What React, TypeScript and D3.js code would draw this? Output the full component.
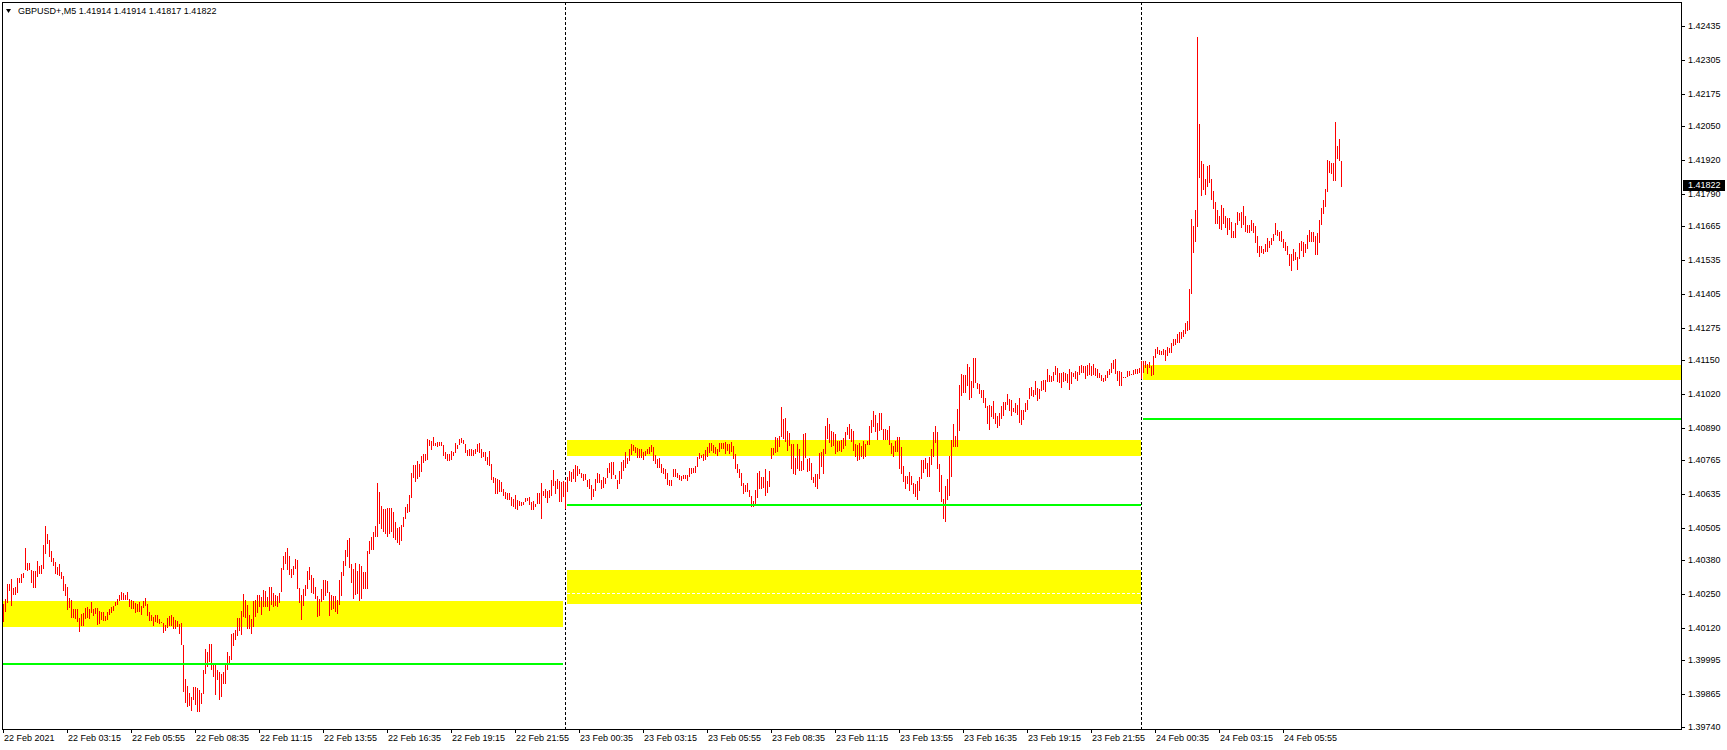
import React from 'react';
import * as d3 from 'd3';

// ---- DATA (GBPUSD+, M5) ----
const symbolName = 'GBPUSD+,M5';
const lastOHLC = [1.41914, 1.41914, 1.41817, 1.41822];

const highs = [
  1.40212, 1.40232, 1.40289, 1.40289, 1.40309, 1.40274, 1.40278, 1.40312, 1.40312, 1.40329,
  1.40332, 1.40428, 1.40370, 1.40371, 1.40343, 1.40339, 1.40339, 1.40378, 1.40360, 1.40361,
  1.40437, 1.40510, 1.40482, 1.40459, 1.40414, 1.40387, 1.40375, 1.40355, 1.40364, 1.40334,
  1.40318, 1.40289, 1.40279, 1.40235, 1.40228, 1.40191, 1.40193, 1.40192, 1.40159, 1.40173,
  1.40176, 1.40198, 1.40202, 1.40194, 1.40219, 1.40193, 1.40197, 1.40197, 1.40185, 1.40182,
  1.40183, 1.40166, 1.40183, 1.40192, 1.40200, 1.40203, 1.40220, 1.40230, 1.40246, 1.40259,
  1.40255, 1.40248, 1.40259, 1.40230, 1.40226, 1.40225, 1.40214, 1.40211, 1.40221, 1.40206,
  1.40224, 1.40234, 1.40212, 1.40182, 1.40170, 1.40161, 1.40171, 1.40171, 1.40156, 1.40143,
  1.40139, 1.40132, 1.40159, 1.40165, 1.40169, 1.40161, 1.40151, 1.40147, 1.40134, 1.40137,
  1.40056, 1.39924, 1.39897, 1.39871, 1.39856, 1.39894, 1.39891, 1.39888, 1.39883, 1.39868,
  1.39957, 1.40039, 1.40028, 1.40059, 1.40059, 1.39984, 1.39982, 1.39959, 1.39952, 1.39944,
  1.39950, 1.39980, 1.40028, 1.40011, 1.40097, 1.40102, 1.40112, 1.40159, 1.40157, 1.40185,
  1.40251, 1.40228, 1.40209, 1.40170, 1.40156, 1.40223, 1.40228, 1.40247, 1.40247, 1.40238,
  1.40265, 1.40262, 1.40238, 1.40278, 1.40278, 1.40255, 1.40247, 1.40241, 1.40256, 1.40351,
  1.40397, 1.40412, 1.40428, 1.40396, 1.40347, 1.40360, 1.40384, 1.40382, 1.40274, 1.40247,
  1.40270, 1.40285, 1.40339, 1.40355, 1.40324, 1.40312, 1.40276, 1.40244, 1.40232, 1.40270,
  1.40305, 1.40305, 1.40300, 1.40259, 1.40247, 1.40241, 1.40243, 1.40228, 1.40305, 1.40335,
  1.40378, 1.40420, 1.40459, 1.40466, 1.40366, 1.40347, 1.40370, 1.40339, 1.40366, 1.40360,
  1.40335, 1.40335, 1.40416, 1.40455, 1.40468, 1.40489, 1.40512, 1.40678, 1.40643, 1.40589,
  1.40579, 1.40579, 1.40583, 1.40583, 1.40580, 1.40566, 1.40528, 1.40505, 1.40507, 1.40515,
  1.40547, 1.40585, 1.40596, 1.40633, 1.40716, 1.40747, 1.40747, 1.40762, 1.40752, 1.40782,
  1.40789, 1.40788, 1.40847, 1.40843, 1.40837, 1.40853, 1.40832, 1.40835, 1.40835, 1.40835,
  1.40824, 1.40798, 1.40789, 1.40789, 1.40800, 1.40797, 1.40833, 1.40825, 1.40846, 1.40851,
  1.40843, 1.40829, 1.40803, 1.40807, 1.40807, 1.40806, 1.40807, 1.40829, 1.40830, 1.40807,
  1.40796, 1.40796, 1.40779, 1.40801, 1.40750, 1.40700, 1.40696, 1.40693, 1.40689, 1.40683,
  1.40655, 1.40641, 1.40637, 1.40639, 1.40624, 1.40615, 1.40633, 1.40612, 1.40609, 1.40605,
  1.40605, 1.40620, 1.40620, 1.40623, 1.40606, 1.40607, 1.40597, 1.40639, 1.40639, 1.40678,
  1.40646, 1.40653, 1.40648, 1.40651, 1.40687, 1.40726, 1.40685, 1.40691, 1.40685, 1.40683,
  1.40685, 1.40683, 1.40700, 1.40724, 1.40721, 1.40733, 1.40747, 1.40744, 1.40733, 1.40716,
  1.40713, 1.40711, 1.40689, 1.40691, 1.40670, 1.40654, 1.40693, 1.40716, 1.40712, 1.40688,
  1.40702, 1.40698, 1.40735, 1.40754, 1.40759, 1.40759, 1.40708, 1.40688, 1.40722, 1.40758,
  1.40765, 1.40798, 1.40775, 1.40808, 1.40827, 1.40824, 1.40815, 1.40812, 1.40809, 1.40808,
  1.40798, 1.40802, 1.40808, 1.40816, 1.40824, 1.40816, 1.40786, 1.40768, 1.40775, 1.40749,
  1.40736, 1.40731, 1.40717, 1.40690, 1.40689, 1.40731, 1.40731, 1.40717, 1.40707, 1.40706,
  1.40708, 1.40708, 1.40707, 1.40735, 1.40736, 1.40736, 1.40744, 1.40779, 1.40791, 1.40785,
  1.40790, 1.40804, 1.40817, 1.40831, 1.40831, 1.40824, 1.40816, 1.40807, 1.40831, 1.40830,
  1.40833, 1.40834, 1.40827, 1.40826, 1.40835, 1.40818, 1.40788, 1.40752, 1.40733, 1.40716,
  1.40679, 1.40671, 1.40676, 1.40652, 1.40627, 1.40609, 1.40650, 1.40716, 1.40725, 1.40699,
  1.40699, 1.40731, 1.40685, 1.40724, 1.40813, 1.40813, 1.40854, 1.40850, 1.40859, 1.40970,
  1.40922, 1.40927, 1.40876, 1.40868, 1.40829, 1.40827, 1.40772, 1.40829, 1.40809, 1.40763,
  1.40867, 1.40870, 1.40770, 1.40775, 1.40754, 1.40702, 1.40711, 1.40713, 1.40793, 1.40798,
  1.40808, 1.40898, 1.40927, 1.40906, 1.40876, 1.40872, 1.40866, 1.40840, 1.40838, 1.40841,
  1.40850, 1.40875, 1.40894, 1.40904, 1.40885, 1.40876, 1.40829, 1.40824, 1.40831, 1.40821,
  1.40840, 1.40828, 1.40840, 1.40896, 1.40921, 1.40955, 1.40939, 1.40908, 1.40946, 1.40946,
  1.40886, 1.40885, 1.40881, 1.40896, 1.40832, 1.40819, 1.40837, 1.40854, 1.40854, 1.40816,
  1.40742, 1.40705, 1.40705, 1.40719, 1.40705, 1.40676, 1.40672, 1.40684, 1.40699, 1.40766,
  1.40764, 1.40772, 1.40755, 1.40776, 1.40808, 1.40873, 1.40896, 1.40873, 1.40751, 1.40709,
  1.40616, 1.40667, 1.40691, 1.40780, 1.40842, 1.40904, 1.40858, 1.40963, 1.41054, 1.41096,
  1.41094, 1.41092, 1.41135, 1.41123, 1.41071, 1.41159, 1.41159, 1.41063, 1.41057, 1.41035,
  1.41036, 1.41005, 1.40973, 1.40977, 1.40975, 1.40994, 1.40948, 1.40935, 1.40945, 1.40975,
  1.40989, 1.40987, 1.41021, 1.41000, 1.40995, 1.40967, 1.40985, 1.40977, 1.41004, 1.40958,
  1.40957, 1.40986, 1.40996, 1.41041, 1.41048, 1.41035, 1.41068, 1.41044, 1.41040, 1.41068,
  1.41073, 1.41073, 1.41116, 1.41091, 1.41089, 1.41105, 1.41126, 1.41118, 1.41099, 1.41100,
  1.41104, 1.41101, 1.41095, 1.41114, 1.41103, 1.41100, 1.41109, 1.41103, 1.41128, 1.41130,
  1.41126, 1.41126, 1.41132, 1.41137, 1.41126, 1.41135, 1.41118, 1.41117, 1.41100, 1.41094,
  1.41081, 1.41094, 1.41107, 1.41114, 1.41139, 1.41149, 1.41154, 1.41108, 1.41107, 1.41105,
  1.41086, 1.41085, 1.41107, 1.41108, 1.41096, 1.41110, 1.41114, 1.41116, 1.41118, 1.41148,
  1.41146, 1.41148, 1.41135, 1.41141, 1.41126, 1.41167, 1.41192, 1.41201, 1.41188, 1.41184,
  1.41191, 1.41187, 1.41201, 1.41198, 1.41216, 1.41233, 1.41232, 1.41249, 1.41258, 1.41257,
  1.41266, 1.41292, 1.41302, 1.41423, 1.41693, 1.41666, 1.41727, 1.42394, 1.42058, 1.41916,
  1.41904, 1.41846, 1.41896, 1.41900, 1.41846, 1.41799, 1.41758, 1.41727, 1.41705, 1.41746,
  1.41736, 1.41704, 1.41696, 1.41696, 1.41681, 1.41646, 1.41677, 1.41720, 1.41717, 1.41721,
  1.41743, 1.41704, 1.41670, 1.41670, 1.41689, 1.41677, 1.41664, 1.41627, 1.41589, 1.41589,
  1.41577, 1.41596, 1.41620, 1.41609, 1.41620, 1.41635, 1.41677, 1.41652, 1.41641, 1.41646,
  1.41617, 1.41605, 1.41589, 1.41558, 1.41558, 1.41577, 1.41566, 1.41546, 1.41600, 1.41608,
  1.41604, 1.41595, 1.41632, 1.41650, 1.41641, 1.41641, 1.41627, 1.41640, 1.41689, 1.41735,
  1.41766, 1.41808, 1.41920, 1.41916, 1.41908, 1.41907, 1.42066, 1.41973, 1.42000, 1.41914,
];

const lows = [
  1.40144, 1.40183, 1.40214, 1.40262, 1.40205, 1.40246, 1.40247, 1.40255, 1.40294, 1.40294,
  1.40310, 1.40341, 1.40338, 1.40341, 1.40291, 1.40275, 1.40275, 1.40314, 1.40328, 1.40329,
  1.40348, 1.40405, 1.40443, 1.40394, 1.40375, 1.40359, 1.40329, 1.40325, 1.40320, 1.40309,
  1.40260, 1.40242, 1.40187, 1.40197, 1.40160, 1.40160, 1.40155, 1.40141, 1.40106, 1.40128,
  1.40128, 1.40155, 1.40157, 1.40156, 1.40176, 1.40164, 1.40174, 1.40133, 1.40134, 1.40150,
  1.40148, 1.40146, 1.40151, 1.40171, 1.40176, 1.40184, 1.40203, 1.40209, 1.40223, 1.40229,
  1.40228, 1.40226, 1.40229, 1.40201, 1.40194, 1.40194, 1.40179, 1.40182, 1.40183, 1.40171,
  1.40198, 1.40203, 1.40166, 1.40148, 1.40148, 1.40129, 1.40143, 1.40137, 1.40134, 1.40137,
  1.40102, 1.40107, 1.40120, 1.40129, 1.40126, 1.40114, 1.40116, 1.40123, 1.40098, 1.40055,
  1.39874, 1.39832, 1.39814, 1.39819, 1.39802, 1.39844, 1.39824, 1.39798, 1.39797, 1.39829,
  1.39866, 1.39944, 1.39971, 1.39987, 1.39960, 1.39932, 1.39862, 1.39918, 1.39844, 1.39856,
  1.39906, 1.39906, 1.39957, 1.39979, 1.39998, 1.40050, 1.40073, 1.40089, 1.40107, 1.40092,
  1.40161, 1.40157, 1.40115, 1.40115, 1.40096, 1.40125, 1.40161, 1.40178, 1.40200, 1.40168,
  1.40202, 1.40201, 1.40202, 1.40184, 1.40209, 1.40202, 1.40206, 1.40202, 1.40215, 1.40257,
  1.40342, 1.40366, 1.40342, 1.40324, 1.40312, 1.40323, 1.40346, 1.40270, 1.40214, 1.40151,
  1.40206, 1.40244, 1.40270, 1.40305, 1.40255, 1.40251, 1.40233, 1.40162, 1.40166, 1.40219,
  1.40228, 1.40243, 1.40256, 1.40166, 1.40189, 1.40192, 1.40182, 1.40174, 1.40210, 1.40243,
  1.40320, 1.40360, 1.40394, 1.40351, 1.40292, 1.40233, 1.40247, 1.40250, 1.40225, 1.40233,
  1.40271, 1.40271, 1.40271, 1.40405, 1.40421, 1.40420, 1.40471, 1.40471, 1.40521, 1.40502,
  1.40487, 1.40483, 1.40471, 1.40482, 1.40488, 1.40465, 1.40459, 1.40446, 1.40437, 1.40453,
  1.40509, 1.40539, 1.40561, 1.40564, 1.40621, 1.40696, 1.40682, 1.40692, 1.40701, 1.40718,
  1.40753, 1.40761, 1.40764, 1.40818, 1.40805, 1.40818, 1.40819, 1.40814, 1.40821, 1.40820,
  1.40783, 1.40770, 1.40762, 1.40762, 1.40766, 1.40782, 1.40792, 1.40810, 1.40824, 1.40830,
  1.40826, 1.40791, 1.40783, 1.40783, 1.40783, 1.40782, 1.40788, 1.40797, 1.40794, 1.40773,
  1.40779, 1.40761, 1.40746, 1.40744, 1.40687, 1.40679, 1.40635, 1.40634, 1.40644, 1.40641,
  1.40628, 1.40616, 1.40611, 1.40612, 1.40589, 1.40584, 1.40579, 1.40574, 1.40589, 1.40589,
  1.40593, 1.40606, 1.40610, 1.40592, 1.40574, 1.40574, 1.40584, 1.40596, 1.40596, 1.40538,
  1.40628, 1.40618, 1.40602, 1.40618, 1.40629, 1.40666, 1.40634, 1.40653, 1.40605, 1.40606,
  1.40625, 1.40576, 1.40641, 1.40684, 1.40683, 1.40693, 1.40680, 1.40704, 1.40713, 1.40698,
  1.40685, 1.40689, 1.40662, 1.40656, 1.40613, 1.40625, 1.40645, 1.40676, 1.40679, 1.40653,
  1.40659, 1.40672, 1.40695, 1.40716, 1.40693, 1.40709, 1.40693, 1.40654, 1.40675, 1.40691,
  1.40724, 1.40734, 1.40752, 1.40761, 1.40786, 1.40802, 1.40793, 1.40775, 1.40775, 1.40775,
  1.40766, 1.40781, 1.40788, 1.40790, 1.40797, 1.40763, 1.40749, 1.40735, 1.40736, 1.40717,
  1.40711, 1.40694, 1.40671, 1.40666, 1.40667, 1.40699, 1.40702, 1.40697, 1.40688, 1.40686,
  1.40693, 1.40691, 1.40684, 1.40702, 1.40713, 1.40715, 1.40716, 1.40740, 1.40768, 1.40775,
  1.40762, 1.40765, 1.40776, 1.40791, 1.40799, 1.40794, 1.40789, 1.40783, 1.40795, 1.40809,
  1.40808, 1.40789, 1.40799, 1.40790, 1.40797, 1.40768, 1.40733, 1.40717, 1.40698, 1.40666,
  1.40634, 1.40643, 1.40643, 1.40625, 1.40584, 1.40586, 1.40595, 1.40621, 1.40656, 1.40653,
  1.40657, 1.40626, 1.40638, 1.40663, 1.40770, 1.40784, 1.40794, 1.40797, 1.40815, 1.40856,
  1.40847, 1.40836, 1.40802, 1.40821, 1.40731, 1.40711, 1.40707, 1.40730, 1.40725, 1.40722,
  1.40729, 1.40772, 1.40720, 1.40724, 1.40690, 1.40676, 1.40663, 1.40656, 1.40693, 1.40740,
  1.40713, 1.40788, 1.40845, 1.40831, 1.40817, 1.40821, 1.40790, 1.40797, 1.40799, 1.40797,
  1.40807, 1.40821, 1.40862, 1.40847, 1.40834, 1.40802, 1.40779, 1.40763, 1.40767, 1.40776,
  1.40771, 1.40778, 1.40825, 1.40823, 1.40868, 1.40891, 1.40872, 1.40844, 1.40878, 1.40880,
  1.40841, 1.40841, 1.40841, 1.40822, 1.40789, 1.40776, 1.40796, 1.40796, 1.40732, 1.40712,
  1.40682, 1.40654, 1.40673, 1.40646, 1.40668, 1.40635, 1.40625, 1.40613, 1.40648, 1.40694,
  1.40714, 1.40732, 1.40701, 1.40701, 1.40746, 1.40778, 1.40830, 1.40732, 1.40642, 1.40605,
  1.40540, 1.40528, 1.40612, 1.40628, 1.40701, 1.40814, 1.40814, 1.40817, 1.40878, 1.41013,
  1.41025, 1.41025, 1.41050, 1.40995, 1.41003, 1.41041, 1.41060, 1.41037, 1.41019, 1.41003,
  1.40985, 1.40966, 1.40905, 1.40881, 1.40933, 1.40923, 1.40903, 1.40887, 1.40898, 1.40925,
  1.40936, 1.40957, 1.40978, 1.40954, 1.40935, 1.40950, 1.40948, 1.40937, 1.40908, 1.40901,
  1.40919, 1.40950, 1.40960, 1.41001, 1.41013, 1.41009, 1.41017, 1.40992, 1.41000, 1.41031,
  1.41035, 1.41028, 1.41066, 1.41066, 1.41066, 1.41071, 1.41091, 1.41066, 1.41060, 1.41044,
  1.41064, 1.41068, 1.41063, 1.41036, 1.41059, 1.41086, 1.41077, 1.41071, 1.41092, 1.41101,
  1.41099, 1.41077, 1.41089, 1.41092, 1.41090, 1.41092, 1.41089, 1.41081, 1.41082, 1.41071,
  1.41066, 1.41069, 1.41082, 1.41092, 1.41099, 1.41117, 1.41096, 1.41069, 1.41051, 1.41051,
  1.41082, 1.41081, 1.41086, 1.41089, 1.41091, 1.41092, 1.41095, 1.41098, 1.41100, 1.41079,
  1.41102, 1.41120, 1.41097, 1.41121, 1.41087, 1.41092, 1.41160, 1.41174, 1.41169, 1.41169,
  1.41171, 1.41148, 1.41164, 1.41176, 1.41176, 1.41206, 1.41210, 1.41215, 1.41215, 1.41233,
  1.41237, 1.41251, 1.41262, 1.41266, 1.41404, 1.41563, 1.41605, 1.41663, 1.41852, 1.41782,
  1.41805, 1.41786, 1.41817, 1.41832, 1.41764, 1.41732, 1.41675, 1.41673, 1.41654, 1.41652,
  1.41673, 1.41658, 1.41631, 1.41649, 1.41621, 1.41621, 1.41621, 1.41671, 1.41685, 1.41659,
  1.41671, 1.41641, 1.41640, 1.41640, 1.41646, 1.41639, 1.41602, 1.41562, 1.41548, 1.41561,
  1.41559, 1.41564, 1.41567, 1.41580, 1.41593, 1.41608, 1.41631, 1.41627, 1.41609, 1.41605,
  1.41582, 1.41571, 1.41553, 1.41512, 1.41494, 1.41532, 1.41534, 1.41498, 1.41537, 1.41571,
  1.41548, 1.41563, 1.41576, 1.41603, 1.41605, 1.41604, 1.41555, 1.41555, 1.41602, 1.41671,
  1.41713, 1.41740, 1.41798, 1.41870, 1.41866, 1.41840, 1.41839, 1.41923, 1.41917, 1.41817,
];

const timeLabels = [
  '22 Feb 2021', '22 Feb 03:15', '22 Feb 05:55', '22 Feb 08:35', '22 Feb 11:15', '22 Feb 13:55',
  '22 Feb 16:35', '22 Feb 19:15', '22 Feb 21:55', '23 Feb 00:35', '23 Feb 03:15', '23 Feb 05:55',
  '23 Feb 08:35', '23 Feb 11:15', '23 Feb 13:55', '23 Feb 16:35', '23 Feb 19:15', '23 Feb 21:55',
  '24 Feb 00:35', '24 Feb 03:15', '24 Feb 05:55',
];
const timeLabelEvery = 32; // bars between time labels

const priceLabels = [
  '1.42435', '1.42305', '1.42175', '1.42050', '1.41920', '1.41790', '1.41665', '1.41535',
  '1.41405', '1.41275', '1.41150', '1.41020', '1.40890', '1.40765', '1.40635', '1.40505',
  '1.40380', '1.40250', '1.40120', '1.39995', '1.39865', '1.39740',
];

// day separators (bar index of first bar of each new day)
const daySeparators = [281, 569];

// yellow zones
const zoneFrom = [0, 282, 282, 570];
const zoneTo = [280, 569, 569, -1];
const zoneTop = [1.40223, 1.40844, 1.40343, 1.41130];
const zoneBottom = [1.40123, 1.40782, 1.40213, 1.41075];

// green levels
const levelFrom = [0, 282, 570];
const levelTo = [280, 569, -1];
const levelValue = [1.39981, 1.40594, 1.40924];

// white dashed mid line
const midFrom = [282];
const midTo = [569];
const midValue = [1.40253];

const FONT = '"Liberation Sans", Arial, sans-serif';

export default function App() {
  const W = 1727;
  const H = 750;
  const plotLeft = 2;
  const plotTop = 2;
  const plotRight = 1681;
  const plotBottom = 729;

  const n = highs.length;
  const x = d3.scaleLinear().domain([0, n - 1]).range([3, 3 + 2 * (n - 1)]);
  const y = d3.scaleLinear().domain([1.3974, 1.42435]).range([726.7, 26]);

  const xe = (i: number) => (i < 0 ? plotRight : x(i));

  const bars = highs.map((h, i) => {
    const y1 = Math.round(y(h));
    const y2 = Math.round(y(lows[i]));
    return <rect key={i} x={x(i)} y={y1} width={1} height={Math.max(1, y2 - y1)} fill="#ff0000" />;
  });

  const last = lastOHLC[3];
  const lastY = Math.round(y(last));

  return (
    <svg width={W} height={H} style={{ position: 'absolute', left: 0, top: 0, background: '#fff' }} shapeRendering="crispEdges">
      <rect x={0} y={0} width={W} height={H} fill="#ffffff" />
      {/* zones (background) */}
      {zoneFrom.map((f, k) => {
        const x1 = x(f);
        const x2 = xe(zoneTo[k]);
        const yt = Math.round(y(zoneTop[k]));
        const yb = Math.round(y(zoneBottom[k]));
        return <rect key={'z' + k} x={x1} y={yt} width={x2 - x1} height={yb - yt} fill="#ffff00" />;
      })}
      {midFrom.map((f, k) => (
        <line key={'m' + k} x1={x(f)} x2={xe(midTo[k])} y1={Math.round(y(midValue[k])) + 0.5} y2={Math.round(y(midValue[k])) + 0.5}
          stroke="#ffffff" strokeWidth={1} strokeDasharray="3,2" />
      ))}
      {/* day separators */}
      {daySeparators.map((d) => (
        <line key={'s' + d} x1={x(d) + 0.5} x2={x(d) + 0.5} y1={plotTop} y2={plotBottom} stroke="#000" strokeWidth={1} strokeDasharray="3,2" />
      ))}
      {/* bars */}
      <g>{bars}</g>
      {/* green levels */}
      {levelFrom.map((f, k) => {
        const yy = Math.round(y(levelValue[k]));
        return <rect key={'l' + k} x={x(f)} y={yy - 1} width={xe(levelTo[k]) - x(f)} height={2} fill="#00ff00" />;
      })}
      {/* frame */}
      <rect x={plotLeft + 0.5} y={plotTop + 0.5} width={plotRight - plotLeft} height={plotBottom - plotTop} fill="none" stroke="#000" strokeWidth={1} />
      {/* price axis */}
      {priceLabels.map((p) => {
        const yy = Math.round(y(parseFloat(p)));
        return (
          <g key={p}>
            <line x1={plotRight} x2={plotRight + 4} y1={yy + 0.5} y2={yy + 0.5} stroke="#000" />
            <text x={plotRight + 7} y={yy} dominantBaseline="central" fontFamily={FONT} fontSize={9} fill="#000">{p}</text>
          </g>
        );
      })}
      <rect x={plotRight + 2} y={lastY - 5} width={42} height={11} fill="#000" />
      <text x={plotRight + 7} y={lastY} dominantBaseline="central" fontFamily={FONT} fontSize={9} fill="#fff">{last.toFixed(5)}</text>
      {/* time axis */}
      {timeLabels.map((t, k) => {
        const xx = x(k * timeLabelEvery);
        return (
          <g key={t}>
            <line x1={xx + 0.5} x2={xx + 0.5} y1={plotBottom} y2={plotBottom + 4} stroke="#000" />
            <text x={xx + 1} y={741} fontFamily={FONT} fontSize={9} fill="#000">{t}</text>
          </g>
        );
      })}
      {/* header */}
      <path d="M6,9 L11,9 L8.5,13 Z" fill="#000" shapeRendering="auto" />
      <text x={18} y={14} fontFamily={FONT} fontSize={9} fill="#000">
        {symbolName + '  ' + lastOHLC.map((v) => v.toFixed(5)).join(' ')}
      </text>
    </svg>
  );
}
